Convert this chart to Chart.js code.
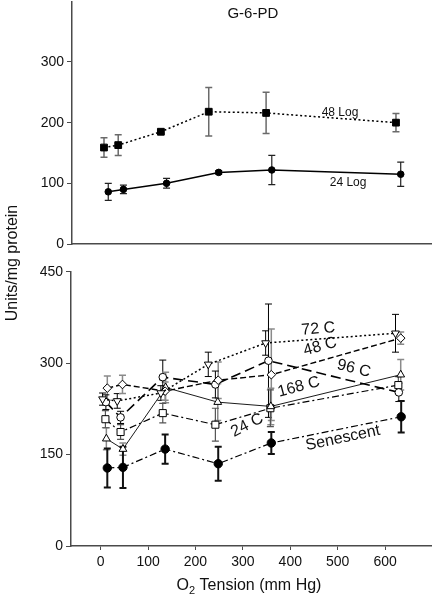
<!DOCTYPE html>
<html>
<head>
<meta charset="utf-8">
<script src="https://cdn.jsdelivr.net/npm/chart.js@4.4.1/dist/chart.umd.min.js"></script>
<style>
  body { margin: 0; background: #fff; }
  #wrap { position: relative; width: 432px; height: 598px; }
  .box { position: absolute; left: 0; top: 0; width: 432px; }
  #bottomBox { height: 598px; }
  #topBox { height: 250px; }
</style>
</head>
<body>
<div id="wrap">
  <div class="box" id="bottomBox"><canvas id="bottom"></canvas></div>
  <div class="box" id="topBox"><canvas id="top"></canvas></div>
</div>
<script>
// ---- top panel: G-6-PD, log phase cultures ----
const log48X = [7, 37, 127, 228, 349, 623];
const log48Y = [159, 163, 185, 218, 216, 200];
const log48Err = [16, 17, 3, 40, 34, 15];

const log24X = [16, 48, 139, 249, 361, 633];
const log24Y = [86, 90, 100, 118, 122, 115];
const log24Err = [14, 7, 8, 3, 24, 20];

const topYTicks = [0, 100, 200, 300];

// ---- bottom panel: confluent / senescent cultures ----
const c72X = [4, 35, 127, 227, 348, 622];
const c72Y = [241, 238, 251, 298, 333, 349];
const c72Err = [10, 12, 12, 20, 20, 31];

const c48X = [14, 46, 136, 248, 360, 633];
const c48Y = [259, 265, 254, 272, 281, 341];
const c48Err = [20, 15, 15, 30, 75, 10];

const c96X = [11, 42, 131, 242, 354, 629];
const c96Y = [236, 211, 277, 265, 304, 252];
const c96Err = [12, 10, 28, 22, 93, 15];

const c168X = [12, 47, 137, 247, 359, 633];
const c168Y = [176, 159, 260, 236, 229, 281];
const c168Err = [18, 10, 25, 30, 30, 25];

const c24X = [10, 42, 131, 242, 358, 628];
const c24Y = [208, 187, 218, 199, 226, 264];
const c24Err = [14, 12, 16, 27, 30, 14];

const senX = [14, 47, 136, 248, 360, 634];
const senY = [128, 129, 159, 135, 169, 212];
const senErr = [32, 34, 24, 28, 18, 26];

const xTicks = [0, 100, 200, 300, 400, 500, 600];
const bottomYTicks = [0, 150, 300, 450];

const FONT = "'Liberation Sans', Arial, Helvetica, sans-serif";
Chart.defaults.font.family = FONT;
Chart.defaults.color = '#111';

function series(label, xs, ys, errs, style) {
  return Object.assign({
    label,
    data: xs.map((x, i) => ({ x, y: ys[i] })),
    errors: errs,
    showLine: true,
    fill: false,
    borderColor: '#000',
    borderWidth: 1.2,
    pointBorderColor: '#000',
    pointBackgroundColor: '#fff',
    pointBorderWidth: 1,
    pointRadius: 4,
    errorColor: '#000',
    errorWidth: 1
  }, style);
}

// vertical error bars with caps, drawn under the markers
const errorBars = {
  id: 'errorBars',
  beforeDatasetsDraw(chart) {
    const { ctx, scales: { x, y } } = chart;
    chart.data.datasets.forEach(ds => {
      if (!ds.errors) return;
      ctx.save();
      ctx.strokeStyle = ds.errorColor;
      ctx.lineWidth = ds.errorWidth;
      ctx.setLineDash([]);
      ds.data.forEach((p, j) => {
        const e = ds.errors[j];
        const px = x.getPixelForValue(p.x);
        const t = y.getPixelForValue(p.y + e);
        const b = y.getPixelForValue(p.y - e);
        ctx.beginPath();
        ctx.moveTo(px, t); ctx.lineTo(px, b);
        ctx.moveTo(px - 3.5, t); ctx.lineTo(px + 3.5, t);
        ctx.moveTo(px - 3.5, b); ctx.lineTo(px + 3.5, b);
        ctx.stroke();
      });
      ctx.restore();
    });
  }
};

// in-plot text labels placed in data coordinates
const textLabels = {
  id: 'textLabels',
  afterDatasetsDraw(chart, args, opts) {
    const { ctx, scales: { x, y } } = chart;
    (opts.items || []).forEach(it => {
      ctx.save();
      ctx.translate(x.getPixelForValue(it.x), y.getPixelForValue(it.y));
      ctx.rotate((it.angle || 0) * Math.PI / 180);
      ctx.font = it.size + 'px ' + FONT;
      ctx.fillStyle = '#111';
      ctx.textAlign = 'center';
      ctx.textBaseline = 'middle';
      ctx.fillText(it.text, 0, 0);
      ctx.restore();
    });
  }
};

// axis titles (y title spans both panels, so it lives on the full-height canvas)
const axisTitles = {
  id: 'axisTitles',
  afterDraw(chart) {
    const { ctx } = chart;
    ctx.save();
    ctx.fillStyle = '#111';
    ctx.font = '16px ' + FONT;
    ctx.textBaseline = 'alphabetic';

    ctx.save();
    ctx.translate(17, 263);
    ctx.rotate(-Math.PI / 2);
    ctx.textAlign = 'center';
    ctx.fillText('Units/mg protein', 0, 0);
    ctx.restore();

    const a = 'O', b = '2', c = ' Tension (mm Hg)';
    ctx.font = '16px ' + FONT;
    const wa = ctx.measureText(a).width, wc = ctx.measureText(c).width;
    ctx.font = '11px ' + FONT;
    const wb = ctx.measureText(b).width;
    let sx = 249 - (wa + wb + wc) / 2;
    ctx.textAlign = 'left';
    ctx.font = '16px ' + FONT;
    ctx.fillText(a, sx, 590);
    ctx.font = '11px ' + FONT;
    ctx.fillText(b, sx + wa, 594);
    ctx.font = '16px ' + FONT;
    ctx.fillText(c, sx + wa + wb, 590);
    ctx.restore();
  }
};

const axisColor = '#4a4a4a';

function yScale(min, max, ticks, width) {
  return {
    type: 'linear', min, max,
    afterBuildTicks: s => { s.ticks = ticks.map(v => ({ value: v })); },
    afterFit: s => { s.width = width; s.paddingTop = 0; s.paddingBottom = 0; },
    border: { color: axisColor, width: 1.5 },
    grid: { drawOnChartArea: false, drawTicks: true, tickLength: 5, color: axisColor },
    ticks: { font: { size: 14 }, color: '#111', padding: 3 }
  };
}

// top chart
new Chart(document.getElementById('top'), {
  type: 'scatter',
  data: {
    datasets: [
      series('48 Log', log48X, log48Y, log48Err, {
        borderDash: [2, 2.5], borderWidth: 1.5,
        pointStyle: 'rect', pointRadius: 4.8,
        pointBackgroundColor: '#000',
        errorColor: '#6a6a6a', errorWidth: 1.5
      }),
      series('24 Log', log24X, log24Y, log24Err, {
        borderWidth: 1.5,
        pointStyle: 'circle', pointRadius: 3.3,
        pointBackgroundColor: '#000',
        errorColor: '#222', errorWidth: 1.2
      })
    ]
  },
  options: {
    responsive: true, maintainAspectRatio: false, animation: false,
    layout: { autoPadding: false, padding: { top: 1.3, right: 0, left: 0, bottom: 0 } },
    scales: {
      x: {
        type: 'linear', min: -60.5, max: 699,
        afterFit: s => { s.height = 6; s.paddingLeft = 0; s.paddingRight = 0; },
        border: { color: axisColor, width: 1.5 },
        grid: { display: false },
        ticks: { display: false }
      },
      y: yScale(0, 400, topYTicks, 72)
    },
    plugins: {
      legend: { display: false },
      tooltip: { enabled: false },
      textLabels: {
        items: [
          { text: 'G-6-PD', x: 321, y: 380, size: 15 },
          { text: '48 Log', x: 505, y: 216, size: 12 },
          { text: '24 Log', x: 522, y: 101, size: 12 }
        ]
      }
    }
  },
  plugins: [errorBars, textLabels]
});

// bottom chart
new Chart(document.getElementById('bottom'), {
  type: 'scatter',
  data: {
    datasets: [
      series('72 C', c72X, c72Y, c72Err, {
        borderDash: [2, 2.5], borderWidth: 1.5,
        pointStyle: 'triangle', rotation: 180, pointRadius: 4.5
      }),
      series('48 C', c48X, c48Y, c48Err, {
        borderDash: [6, 3], borderWidth: 1.4,
        pointStyle: 'rectRot', pointRadius: 4.3,
        errorColor: '#8a8a8a', errorWidth: 1.5
      }),
      series('96 C', c96X, c96Y, c96Err, {
        borderDash: [10, 5], borderWidth: 1.6,
        pointStyle: 'circle', pointRadius: 3.8
      }),
      series('168 C', c168X, c168Y, c168Err, {
        borderWidth: 0.9,
        pointStyle: 'triangle', pointRadius: 4.5,
        errorColor: '#8a8a8a', errorWidth: 1.5
      }),
      series('24 C', c24X, c24Y, c24Err, {
        borderDash: [7, 3, 2, 3], borderWidth: 1.2,
        pointStyle: 'rect', pointRadius: 5,
        errorColor: '#555', errorWidth: 1.2
      }),
      series('Senescent', senX, senY, senErr, {
        borderDash: [7, 3, 2, 3], borderWidth: 1.2,
        pointStyle: 'circle', pointRadius: 4.2,
        pointBackgroundColor: '#000',
        errorColor: '#111', errorWidth: 2
      })
    ]
  },
  options: {
    responsive: true, maintainAspectRatio: false, animation: false,
    layout: { autoPadding: false, padding: { top: 271.7, right: 0, left: 0, bottom: 0 } },
    scales: {
      x: {
        type: 'linear', min: -62.6, max: 699,
        afterBuildTicks: s => { s.ticks = xTicks.map(v => ({ value: v })); },
        afterFit: s => { s.height = 52; s.paddingLeft = 0; s.paddingRight = 0; },
        border: { color: axisColor, width: 1.5 },
        grid: { drawOnChartArea: false, drawTicks: true, tickLength: 4, color: axisColor },
        ticks: { font: { size: 14 }, color: '#111', padding: 4, maxRotation: 0 }
      },
      y: yScale(0, 450, bottomYTicks, 71)
    },
    plugins: {
      legend: { display: false },
      tooltip: { enabled: false },
      textLabels: {
        items: [
          { text: '72 C', x: 459, y: 356, size: 16, angle: -5 },
          { text: '48 C', x: 463, y: 327, size: 16, angle: -16 },
          { text: '96 C', x: 534, y: 291, size: 16, angle: 14 },
          { text: '168 C', x: 418, y: 261, size: 16, angle: -15 },
          { text: '24 C', x: 309, y: 198, size: 16, angle: -27 },
          { text: 'Senescent', x: 511, y: 177, size: 16, angle: -12 }
        ]
      }
    }
  },
  plugins: [errorBars, textLabels, axisTitles]
});
</script>
</body>
</html>
